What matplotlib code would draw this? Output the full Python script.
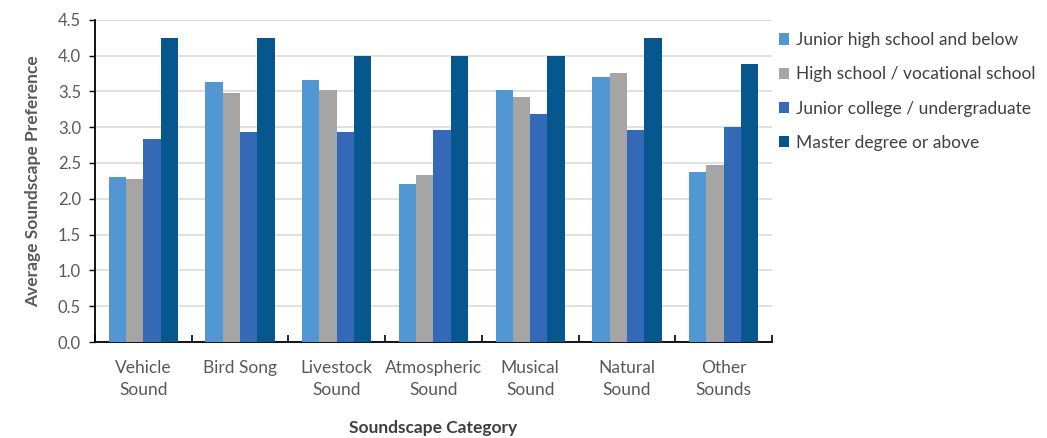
import numpy as np
import matplotlib
matplotlib.use("Agg")
import matplotlib.pyplot as plt

plt.rcParams['font.family'] = ['Lato', 'DejaVu Sans']

categories = ["Vehicle\nSound", "Bird Song", "Livestock\nSound", "Atmospheric\nSound",
              "Musical\nSound", "Natural\nSound", "Other\nSounds"]
series_names = ["Junior high school and below", "High school / vocational school",
                "Junior college / undergraduate", "Master degree or above"]
junior_high = [2.30, 3.63, 3.66, 2.21, 3.52, 3.70, 2.38]
high_school = [2.27, 3.47, 3.52, 2.33, 3.42, 3.75, 2.47]
college = [2.83, 2.93, 2.93, 2.96, 3.18, 2.96, 3.00]
master = [4.25, 4.25, 4.00, 4.00, 4.00, 4.25, 3.88]
y_ticks = [0.0, 0.5, 1.0, 1.5, 2.0, 2.5, 3.0, 3.5, 4.0, 4.5]

colors = ["#5296D3", "#A5A5A5", "#3369B6", "#07578F"]
series = [junior_high, high_school, college, master]

fig = plt.figure(figsize=(10.47, 4.38), dpi=100)
ax = fig.add_axes([0.0907, 0.219, 0.6466, 0.736])

x = np.arange(len(categories))
bar_w = 0.179
for i, (vals, col, name) in enumerate(zip(series, colors, series_names)):
    ax.bar(x + (i - 1.5) * bar_w, vals, width=bar_w, color=col, label=name,
           zorder=3, linewidth=0)

ax.set_xlim(-0.5, len(categories) - 0.5)
ax.set_ylim(0, 4.5)
ax.set_yticks(y_ticks)
ax.set_yticklabels([f"{t:.1f}" for t in y_ticks])
ax.yaxis.grid(True, color="#D9D9D9", linewidth=1.1, zorder=0)
ax.set_axisbelow(True)

# category labels centred, tick marks at group boundaries
ax.set_xticks(x)
ax.set_xticklabels(categories, linespacing=1.45)
ax.tick_params(axis='x', length=0, pad=13, labelsize=12.5, labelcolor="#595959")
ax.set_xticks(np.arange(-0.5, len(categories)), minor=True)
ax.tick_params(axis='x', which='minor', length=5, width=1.2, direction='in', color="#000000")
ax.tick_params(axis='y', length=4, width=1.0, direction='out', labelsize=12,
               labelcolor="#595959", pad=6)

for s in ["top", "right"]:
    ax.spines[s].set_visible(False)
ax.spines["left"].set_linewidth(1.3)
ax.spines["bottom"].set_linewidth(1.3)

ax.set_xlabel("Soundscape Category", fontsize=12.5, fontweight="bold", color="#404040", labelpad=16)
ax.set_ylabel("Average Soundscape Preference", fontsize=12.5, fontweight="bold", color="#595959", labelpad=12)

leg = ax.legend(loc="upper left", bbox_to_anchor=(0.987, 1.01), frameon=False,
                fontsize=12.5, handlelength=0.6, handleheight=0.6, handletextpad=0.4,
                labelspacing=1.05, labelcolor="#404040")

fig.savefig("out.png", dpi=100)
